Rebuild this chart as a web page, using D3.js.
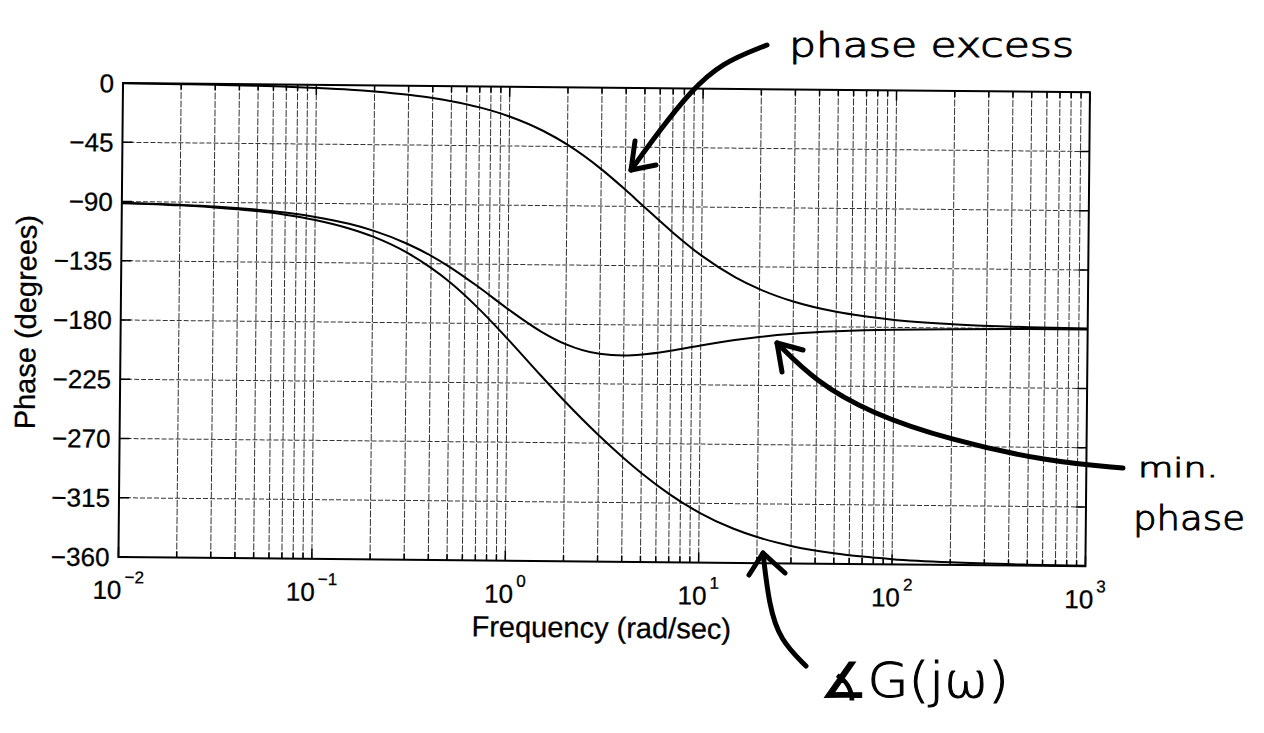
<!DOCTYPE html>
<html>
<head>
<meta charset="utf-8">
<script src="https://cdn.jsdelivr.net/npm/d3@7"></script>
<style>
  html, body { margin: 0; padding: 0; background: #fff; }
  svg { display: block; }
  .tick-label { font-family: "Liberation Sans", Arial, Helvetica, sans-serif; font-size: 26px; fill: #000; stroke: #000; stroke-width: 0.3; }
  .axis-title { font-family: "Liberation Sans", Arial, Helvetica, sans-serif; font-size: 29px; fill: #000; stroke: #000; stroke-width: 0.3; }
  .hand { font-family: "DejaVu Sans", sans-serif; font-weight: 300; fill: #000; stroke: #000; stroke-width: 1; }
</style>
</head>
<body>
<script>
// frequency samples (rad/sec) and phases (degrees)
var freq = [0.01, 0.02, 0.03, 0.05, 0.07, 0.1, 0.15, 0.2, 0.3, 0.4, 0.5, 0.7, 1, 1.5, 2, 3, 4, 5, 7, 10, 15, 20, 30, 50, 70, 100, 200, 500, 1000];
var phaseExcess = [-0.2, -0.5, -0.7, -1.1, -1.6, -2.3, -3.4, -4.6, -6.9, -9.1, -11.4, -15.9, -22.6, -33.4, -43.6, -61.9, -77.3, -90, -108.9, -126.9, -143.1, -151.9, -161.1, -168.6, -171.8, -174.3, -177.1, -178.9, -179.4];
var minPhase = [-91.0, -92.1, -93.1, -95.2, -97.2, -100.3, -105.3, -110.3, -120.0, -129.0, -137.4, -152.0, -168.7, -185.9, -195.1, -202.2, -203.3, -202.4, -199.3, -195.1, -190.8, -188.3, -185.6, -183.4, -182.4, -181.7, -180.9, -180.3, -180.2];
var totalPhase = [-91.3, -92.5, -93.8, -96.3, -98.8, -102.6, -108.8, -114.9, -126.8, -138.2, -148.8, -168.0, -191.3, -219.3, -238.7, -264.1, -280.6, -292.4, -308.2, -322.0, -333.9, -340.2, -346.7, -352.0, -354.3, -356.0, -358.0, -359.2, -359.6];

var yTicks = [0, -45, -90, -135, -180, -225, -270, -315, -360];
var xDecades = [-2, -1, 0, 1, 2, 3];

var width = 1264,
	height = 733,
	W = 967,
	H = 474;

var svg = d3.select("body").append("svg")
	.attr("width", width)
	.attr("height", height);

// the scanned figure is tilted a little
var g = svg.append("g")
	.attr("transform", "translate(123,83) rotate(0.55)");

var x = d3.scaleLog().domain([1e-2, 1e3]).range([0, W]);
var y = d3.scaleLinear().domain([-360, 0]).range([H, 0]);

// minor + major frequencies
var minor = [];
xDecades.forEach(function(d) {
	for (var k = 1; k <= 9; k++) {
		var v = k * Math.pow(10, d);
		if (v <= 1000) minor.push(v);
	}
});

// grid
g.append("g").selectAll("line")
	.data(minor.filter(function(v) { return v > 0.01 && v < 1000; }))
	.enter().append("line")
	.attr("x1", function(d) { return x(d); })
	.attr("x2", function(d) { return x(d); })
	.attr("y1", 0)
	.attr("y2", H)
	.attr("stroke", "#333")
	.attr("stroke-width", 1)
	.attr("stroke-dasharray", "7,1.5");

g.append("g").selectAll("line")
	.data(yTicks.filter(function(v) { return v > -360 && v < 0; }))
	.enter().append("line")
	.attr("x1", 0)
	.attr("x2", W)
	.attr("y1", function(d) { return y(d); })
	.attr("y2", function(d) { return y(d); })
	.attr("stroke", "#333")
	.attr("stroke-width", 1)
	.attr("stroke-dasharray", "5,2");

// ticks inside the box
var tickG = g.append("g").attr("stroke", "#000").attr("stroke-width", 1.5);
minor.forEach(function(v) {
	var len = Number.isInteger(Math.log10(v)) ? 10 : 6;
	tickG.append("line").attr("x1", x(v)).attr("x2", x(v)).attr("y1", H).attr("y2", H - len);
	tickG.append("line").attr("x1", x(v)).attr("x2", x(v)).attr("y1", 0).attr("y2", len);
});
yTicks.forEach(function(v) {
	tickG.append("line").attr("x1", 0).attr("x2", 10).attr("y1", y(v)).attr("y2", y(v));
	tickG.append("line").attr("x1", W).attr("x2", W - 10).attr("y1", y(v)).attr("y2", y(v));
});

// curves
var line = d3.line()
	.x(function(d) { return x(d[0]); })
	.y(function(d) { return y(d[1]); })
	.curve(d3.curveMonotoneX);

[phaseExcess, minPhase, totalPhase].forEach(function(series) {
	g.append("path")
		.datum(d3.zip(freq, series))
		.attr("d", line)
		.attr("fill", "none")
		.attr("stroke", "#000")
		.attr("stroke-width", 2);
});

// box
g.append("rect")
	.attr("x", 0).attr("y", 0)
	.attr("width", W).attr("height", H)
	.attr("fill", "none")
	.attr("stroke", "#000")
	.attr("stroke-width", 2);

// y tick labels
g.append("g").selectAll("text")
	.data(yTicks)
	.enter().append("text")
	.attr("class", "tick-label")
	.attr("x", -9)
	.attr("y", function(d) { return y(d); })
	.attr("dy", "0.36em")
	.attr("text-anchor", "end")
	.text(function(d) { return d === 0 ? "0" : "\u2212" + Math.abs(d); });

// x tick labels 10^n
var xl = g.append("g").selectAll("text")
	.data(xDecades)
	.enter().append("text")
	.attr("class", "tick-label")
	.attr("x", function(d) { return x(Math.pow(10, d)); })
	.attr("y", H + 42)
	.attr("text-anchor", "middle");
xl.append("tspan").text("10");
xl.append("tspan")
	.attr("dx", 3)
	.attr("dy", -16)
	.style("font-size", "17px")
	.text(function(d) { return d < 0 ? "\u2212" + Math.abs(d) : d; });

// axis titles
g.append("text")
	.attr("class", "axis-title")
	.attr("x", W / 2)
	.attr("y", H + 76)
	.attr("text-anchor", "middle")
	.text("Frequency (rad/sec)");

g.append("text")
	.attr("class", "axis-title")
	.attr("transform", "translate(-85," + (H / 2 + 3) + ") rotate(-90)")
	.attr("text-anchor", "middle")
	.text("Phase (degrees)");

// hand-written notes on the print
var notes = [
	{ text: "phase excess", x: 789, y: 57, size: 34, len: 285 },
	{ text: "min.", x: 1138, y: 477, size: 26, len: 80 },
	{ text: "phase", x: 1133, y: 530, size: 34, len: 112 },
	{ text: "\u2221G(j\u03c9)", x: 820, y: 697, size: 48, len: 189 }
];
var arrows = [
	{ path: [[767, 45], [721, 63], [690, 92], [660, 130], [631, 170]], head: [[635, 141], [631, 170], [656, 165]] },
	{ path: [[1123, 468], [1050, 462], [950, 440], [870, 413], [815, 381], [777, 343]], head: [[782, 372], [777, 343], [803, 350]] },
	{ path: [[806, 666], [780, 640], [769, 605], [763, 553]], head: [[749, 575], [763, 553], [785, 573]] }
];

var hand = svg.append("g");
notes.forEach(function(n) {
	hand.append("text")
		.attr("class", "hand")
		.attr("x", n.x)
		.attr("y", n.y)
		.attr("textLength", n.len)
		.attr("lengthAdjust", "spacingAndGlyphs")
		.style("font-size", n.size + "px")
		.text(n.text);
});
var curvy = d3.line().curve(d3.curveBasis);
arrows.forEach(function(a) {
	hand.append("path")
		.attr("d", curvy(a.path))
		.attr("fill", "none")
		.attr("stroke", "#000")
		.attr("stroke-width", 5)
		.attr("stroke-linecap", "round");
	hand.append("path")
		.attr("d", d3.line()(a.head))
		.attr("fill", "none")
		.attr("stroke", "#000")
		.attr("stroke-width", 5)
		.attr("stroke-linecap", "round")
		.attr("stroke-linejoin", "round");
});
</script>
</body>
</html>
